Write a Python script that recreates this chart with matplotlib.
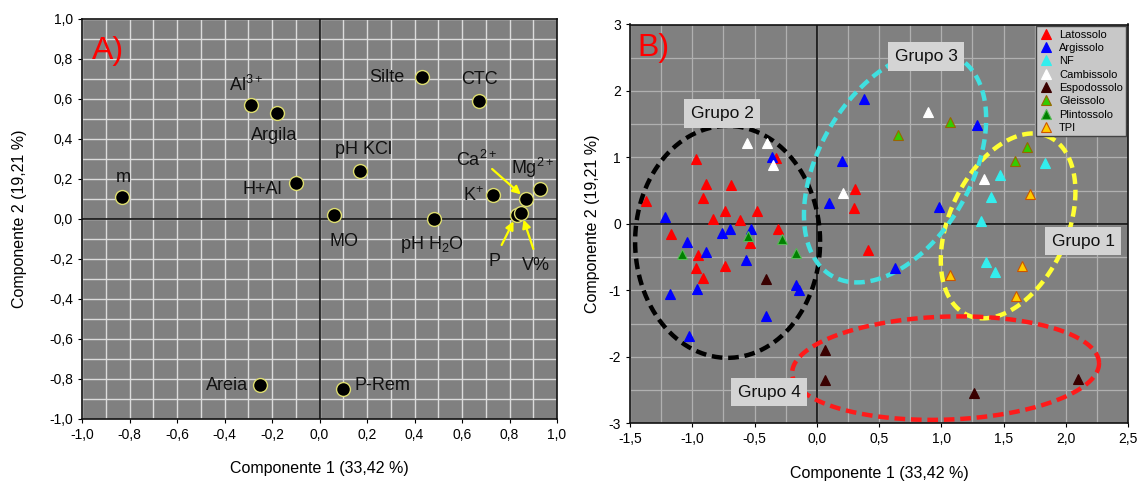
import numpy as np
import matplotlib
matplotlib.use("Agg")
import matplotlib.pyplot as plt
from matplotlib.ticker import MultipleLocator, FuncFormatter

plt.rcParams['font.family'] = ['Liberation Sans', 'DejaVu Sans']
plt.rcParams['mathtext.fontset'] = 'custom'
plt.rcParams['mathtext.rm'] = 'Liberation Sans'
plt.rcParams['mathtext.default'] = 'regular'

# ---------------- Panel A data (loadings) ----------------
var_names = ['m', 'Al$^{3+}$', 'Argila', 'H+Al', 'Silte', 'CTC', 'pH KCl', 'K$^{+}$',
             'Ca$^{2+}$', 'Mg$^{2+}$', 'MO', 'pH H$_2$O', 'P', 'V%', 'Areia', 'P-Rem']
load_pc1 = [-0.83, -0.29, -0.18, -0.10, 0.43, 0.67, 0.17, 0.73,
            0.87, 0.93, 0.06, 0.48, 0.83, 0.85, -0.25, 0.10]
load_pc2 = [0.11, 0.57, 0.53, 0.18, 0.71, 0.59, 0.24, 0.12,
            0.10, 0.15, 0.02, 0.00, 0.02, 0.03, -0.83, -0.85]

# ---------------- Panel B data (scores) ----------------
lat_x = [-0.97, -0.89, -0.69, -0.91, -1.37, -0.74, -0.48, -0.83, -0.62, -1.17,
         -0.31, -0.54, -0.95, -0.97, -0.91, -0.74, -0.33, 0.31, 0.30, 0.41]
lat_y = [0.98, 0.60, 0.58, 0.39, 0.35, 0.19, 0.19, 0.07, 0.06, -0.15,
         -0.08, -0.28, -0.47, -0.67, -0.82, -0.63, 0.99, 0.52, 0.24, -0.40]
arg_x = [-1.22, -0.36, -0.76, -0.70, -0.53, -1.04, -0.89, -0.57, -0.17, -0.14,
         -1.18, -0.96, -0.41, -1.03, 0.38, 0.20, 0.10, 0.98, 0.63, 1.29]
arg_y = [0.11, 1.01, -0.13, -0.07, -0.08, -0.27, -0.42, -0.55, -0.92, -1.00,
         -1.06, -0.98, -1.39, -1.69, 1.88, 0.95, 0.31, 0.26, -0.66, 1.49]
nf_x = [1.83, 1.47, 1.40, 1.32, 1.36, 1.43]
nf_y = [0.91, 0.73, 0.40, 0.05, -0.58, -0.72]
cam_x = [-0.56, -0.40, -0.35, 0.89, 0.21, 1.34]
cam_y = [1.22, 1.22, 0.88, 1.68, 0.47, 0.67]
esp_x = [-0.41, 0.07, 0.07, 1.26, 2.10]
esp_y = [-0.83, -1.90, -2.35, -2.54, -2.34]
glei_x = [1.07, 0.65, 1.69, 1.59]
glei_y = [1.54, 1.34, 1.16, 0.94]
plin_x = [-0.55, -0.28, -1.08, -0.17]
plin_y = [-0.18, -0.23, -0.45, -0.44]
tpi_x = [1.71, 1.07, 1.65, 1.60]
tpi_y = [0.45, -0.77, -0.64, -1.08]

soil_names = ['Latossolo', 'Argissolo', 'NF', 'Cambissolo', 'Espodossolo',
              'Gleissolo', 'Plintossolo', 'TPI']

group_names = ['Grupo 1', 'Grupo 2', 'Grupo 3', 'Grupo 4']

# ---------------- styles ----------------
soil_style = {
    'Latossolo':   dict(fc='#ff0000', ec='#ff0000'),
    'Argissolo':   dict(fc='#0000ff', ec='#0000ff'),
    'NF':          dict(fc='#33eeee', ec='#33eeee'),
    'Cambissolo':  dict(fc='#ffffff', ec='#ffffff'),
    'Espodossolo': dict(fc='#3a0000', ec='#3a0000'),
    'Gleissolo':   dict(fc='#33cc00', ec='#996600'),
    'Plintossolo': dict(fc='#008000', ec='#55bb55'),
    'TPI':         dict(fc='#ffcc00', ec='#cc5500'),
}
soil_data = {
    'Latossolo': (lat_x, lat_y), 'Argissolo': (arg_x, arg_y), 'NF': (nf_x, nf_y),
    'Cambissolo': (cam_x, cam_y), 'Espodossolo': (esp_x, esp_y),
    'Gleissolo': (glei_x, glei_y), 'Plintossolo': (plin_x, plin_y), 'TPI': (tpi_x, tpi_y),
}

# label placement for panel A: (dx px, dy px, ha, va)
label_pos = {
    'm': (1, 20, 'center', 'center'),
    'Al$^{3+}$': (-4, 14, 'center', 'baseline'),
    'Argila': (-3, -22, 'center', 'center'),
    'H+Al': (-14, -7, 'right', 'center'),
    'Silte': (-17, 0, 'right', 'center'),
    'CTC': (1, 21, 'center', 'center'),
    'pH KCl': (4, 22, 'center', 'center'),
    'K$^{+}$': (-9, -6, 'right', 'baseline'),
    'Ca$^{2+}$': (-49, 33, 'center', 'baseline'),
    'Mg$^{2+}$': (-8, 15, 'center', 'baseline'),
    'MO': (10, -26, 'center', 'center'),
    'pH H$_2$O': (-2, -30, 'center', 'baseline'),
    'P': (-22, -47, 'center', 'center'),
    'V%': (15, -52, 'center', 'center'),
    'Areia': (-12, 0, 'right', 'center'),
    'P-Rem': (11, 4, 'left', 'center'),
}
arrow_tail = {'Ca$^{2+}$': (-34, 30), 'P': (-15, -30), 'V%': (12, -36)}

# group ellipses: center (data), semi-axes (px), angle (deg), colour
ell_center = {'Grupo 1': (1.537, -0.03), 'Grupo 2': (-0.716, -0.27),
              'Grupo 3': (0.629, 0.858), 'Grupo 4': (1.035, -2.17)}
ell_axes = {'Grupo 1': (98, 59, 65.5), 'Grupo 2': (92.5, 116, 0),
            'Grupo 3': (126, 76, 60), 'Grupo 4': (153.5, 51.5, 2)}
ell_color = {'Grupo 1': '#ffff33', 'Grupo 2': '#000000',
             'Grupo 3': '#40e0e0', 'Grupo 4': '#ff1a1a'}
glabel_pos = {'Grupo 1': (2.14, -0.26), 'Grupo 2': (-0.76, 1.66),
              'Grupo 3': (0.88, 2.52), 'Grupo 4': (-0.38, -2.53)}

BG = '#808080'
fig = plt.figure(figsize=(11.39, 4.84), dpi=100)
axA = fig.add_axes([82 / 1139, (484 - 419) / 484, 475 / 1139, 400 / 484])
axB = fig.add_axes([630 / 1139, (484 - 423.3) / 484, 498 / 1139, 398.8 / 484])

comma = lambda fmt: FuncFormatter(lambda v, p: (fmt % v).replace('.', ',').replace('-0,0', '0,0'))

for ax in (axA, axB):
    ax.set_facecolor(BG)
    for s in ax.spines.values():
        s.set_linewidth(1.2)
        s.set_color('#111111')
    ax.tick_params(labelsize=10, length=3, width=0.8)
    ax.set_axisbelow(True)

# ---------------- Panel A ----------------
axA.set_xlim(-1.0, 1.0)
axA.set_ylim(-1.0, 1.0)
axA.xaxis.set_major_locator(MultipleLocator(0.2))
axA.yaxis.set_major_locator(MultipleLocator(0.2))
axA.xaxis.set_minor_locator(MultipleLocator(0.1))
axA.yaxis.set_minor_locator(MultipleLocator(0.1))
axA.tick_params(which='minor', length=0)
axA.xaxis.set_major_formatter(comma('%.1f'))
axA.yaxis.set_major_formatter(comma('%.1f'))
axA.grid(True, which='both', color='#dcdcdc', lw=1.0)
axA.axhline(0, color='#111111', lw=1.2, zorder=2)
axA.axvline(0, color='#111111', lw=1.2, zorder=2)
axA.plot(load_pc1, load_pc2, 'o', ms=10, mfc='black', mec='#dede70', mew=1.0,
         ls='none', zorder=4)
for name, x, y in zip(var_names, load_pc1, load_pc2):
    dx, dy, ha, va = label_pos[name]
    axA.annotate(name, (x, y), xytext=(dx, dy), textcoords='offset pixels',
                 ha=ha, va=va, fontsize=13, color='#111111', zorder=5)
    if name in arrow_tail:
        tx, ty = arrow_tail[name]
        axA.annotate('', (x, y), xytext=(tx, ty), textcoords='offset pixels',
                     arrowprops=dict(arrowstyle='-|>', color='#ffff00', lw=1.6,
                                     mutation_scale=12, shrinkA=0, shrinkB=5),
                     zorder=5)
axA.text(0.02, 0.92, 'A)', transform=axA.transAxes, color='#ff0000', fontsize=23,
         ha='left', va='center')
axA.set_xlabel('Componente 1 (33,42 %)', fontsize=11.5, labelpad=14)
axA.set_ylabel('Componente 2 (19,21 %)', fontsize=11.5, labelpad=16)

# ---------------- Panel B ----------------
axB.set_xlim(-1.5, 2.5)
axB.set_ylim(-3, 3)
axB.xaxis.set_major_locator(MultipleLocator(0.5))
axB.xaxis.set_minor_locator(MultipleLocator(0.25))
axB.yaxis.set_major_locator(MultipleLocator(1))
axB.yaxis.set_minor_locator(MultipleLocator(0.5))
axB.tick_params(which='minor', length=0)
axB.xaxis.set_major_formatter(comma('%.1f'))
axB.yaxis.set_major_formatter(FuncFormatter(lambda v, p: '%d' % v))
axB.grid(True, which='both', color='#b0b0b0', lw=0.9)
axB.axhline(0, color='#111111', lw=1.2, zorder=2)
axB.axvline(0, color='#111111', lw=1.2, zorder=2)

# ellipses drawn in pixel units (px per data unit of panel B)
sx = 498 / 4.0
sy = 398.8 / 6.0
t = np.linspace(0, 2 * np.pi, 500)
for g in group_names:
    cx, cy = ell_center[g]
    a, b, ang = ell_axes[g]
    th = np.deg2rad(ang)
    u, v = a * np.cos(t), b * np.sin(t)
    ex = cx + (u * np.cos(th) - v * np.sin(th)) / sx
    ey = cy + (u * np.sin(th) + v * np.cos(th)) / sy
    axB.plot(ex, ey, color=ell_color[g], lw=3.2, ls=(0, (2.4, 1.3)), zorder=3,
             solid_capstyle='butt')

for s in soil_names:
    xs, ys = soil_data[s]
    st = soil_style[s]
    axB.plot(xs, ys, '^', ms=7.5, mfc=st['fc'], mec=st['ec'], mew=0.8, ls='none',
             label=s, zorder=4)

for g in group_names:
    gx, gy = glabel_pos[g]
    axB.text(gx, gy, g, fontsize=12.5, ha='center', va='center', color='#111111', zorder=6,
             bbox=dict(boxstyle='square,pad=0.38', fc='#d4d4d4', ec='none'))

leg = axB.legend(loc='upper right', fontsize=8, frameon=True, fancybox=False,
                 borderaxespad=0.15, handletextpad=0.5, labelspacing=0.3,
                 borderpad=0.3, handlelength=1.3, markerscale=0.95)
leg.get_frame().set_facecolor('#c8c8c8')
leg.get_frame().set_edgecolor('#444444')
leg.get_frame().set_alpha(1)
leg.set_zorder(7)

axB.text(0.014, 0.94, 'B)', transform=axB.transAxes, color='#ff0000', fontsize=23,
         ha='left', va='center')
axB.set_xlabel('Componente 1 (33,42 %)', fontsize=11.5, labelpad=14)
axB.set_ylabel('Componente 2 (19,21 %)', fontsize=11.5, labelpad=6)

fig.savefig('out.png', dpi=100, facecolor='white')
